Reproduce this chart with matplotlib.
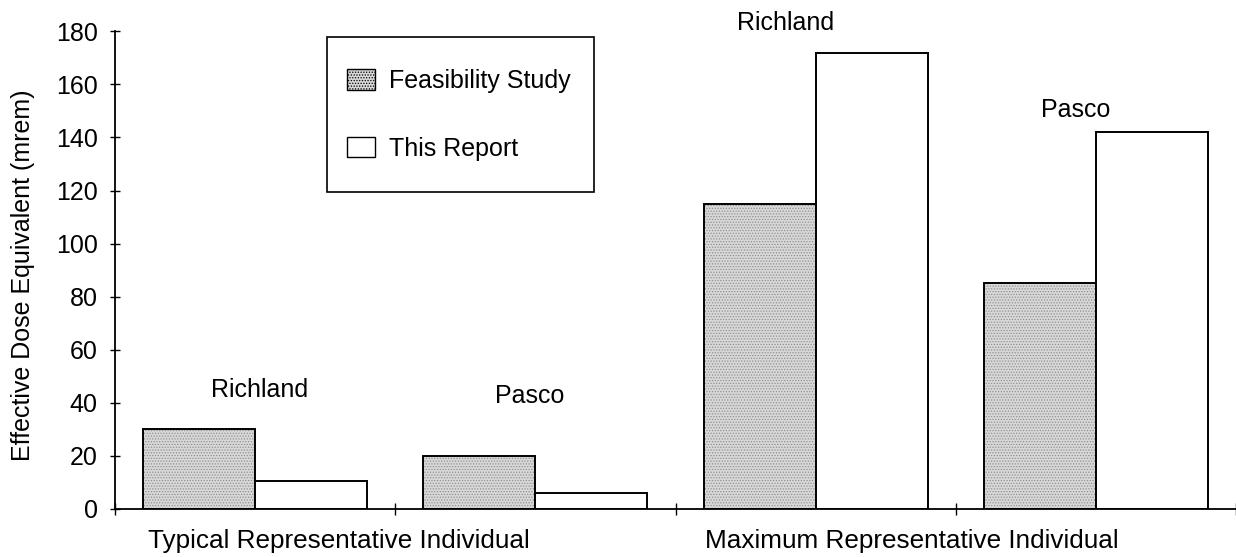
import matplotlib
matplotlib.use("Agg")
import matplotlib.pyplot as plt
import matplotlib.transforms as mtransforms
from matplotlib.patches import Patch, Rectangle
import numpy as np

plt.rcParams['font.family'] = ['Liberation Sans', 'DejaVu Sans']
plt.rcParams['hatch.linewidth'] = 0.6

# ---- data ----
locations = ["Richland", "Pasco", "Richland", "Pasco"]
groups = ["Typical Representative Individual", "Maximum Representative Individual"]
feasibility_study = [30, 20, 115, 85]
this_report = [10.5, 6, 172, 142]
series_names = ["Feasibility Study", "This Report"]
y_ticks = [0, 20, 40, 60, 80, 100, 120, 140, 160, 180]
y_label = "Effective Dose Equivalent (mrem)"

FS = 18

fig = plt.figure(figsize=(12.36, 5.57), dpi=100)
ax = fig.add_axes([115/1236, 48/557, 1121/1236, 477.7/557])

x = np.arange(len(locations))
w = 0.4
# stippled fill
ax.bar(x - w/2, feasibility_study, w, align='center', color='#d8d8d8',
       hatch='......', edgecolor='#909090', linewidth=0)
ax.bar(x - w/2, feasibility_study, w, align='center', fill=False,
       edgecolor='black', linewidth=1.4)
ax.bar(x + w/2, this_report, w, align='center', color='white',
       edgecolor='black', linewidth=1.4)

ax.set_xlim(-0.5, 3.5)
ax.set_ylim(0, 180)
ax.set_yticks(y_ticks)
ax.set_yticklabels([str(v) for v in y_ticks], fontsize=FS)
ax.set_xticks(np.arange(-0.5, 3.6, 1.0))
ax.set_xticklabels([])
ax.tick_params(axis='y', direction='inout', length=7, width=1, pad=9)
ax.tick_params(axis='x', direction='inout', length=8, width=1)
for s in ['top', 'right']:
    ax.spines[s].set_visible(False)
for s in ['left', 'bottom']:
    ax.spines[s].set_linewidth(1.3)
ax.set_ylabel(y_label, fontsize=FS)
ax.yaxis.set_label_coords(-0.082, 0.49)
ax.yaxis.label.set_verticalalignment('center')

# location labels above the bars
label_x_off = [0.017, -0.02, -0.106, -0.071]
label_y = [42.2, 40, 180.5, 147.6]
for i, name in enumerate(locations):
    ax.text(x[i] + label_x_off[i], label_y[i], name, ha='center', va='baseline',
            fontsize=FS, clip_on=False)

# group labels below axis
trans = mtransforms.blended_transform_factory(ax.transData, ax.transAxes)
group_x = [0.299, 2.345]
for gx, g in zip(group_x, groups):
    ax.text(gx, -0.082, g, ha='center', va='baseline', fontsize=18.8, transform=trans)

# legend
handles = [Patch(facecolor='#d8d8d8', edgecolor='black', hatch='......', linewidth=1),
           Patch(facecolor='white', edgecolor='black', linewidth=1)]
leg = ax.legend(handles, series_names, loc='center left',
                bbox_to_anchor=((347-115)/1121, 1 - (115-31.3)/477.7),
                frameon=False, fontsize=FS, handlelength=1.1, handleheight=0.87,
                handletextpad=0.58, labelspacing=1.74, borderpad=0, borderaxespad=0)
box = Rectangle(((327-115)/1121, 1 - (192-31.3)/477.7), (594-327)/1121, (192-37)/477.7,
                transform=ax.transAxes, fill=False, edgecolor='black', linewidth=1.2,
                clip_on=False, zorder=5)
ax.add_patch(box)

fig.savefig("out.png", dpi=100)
